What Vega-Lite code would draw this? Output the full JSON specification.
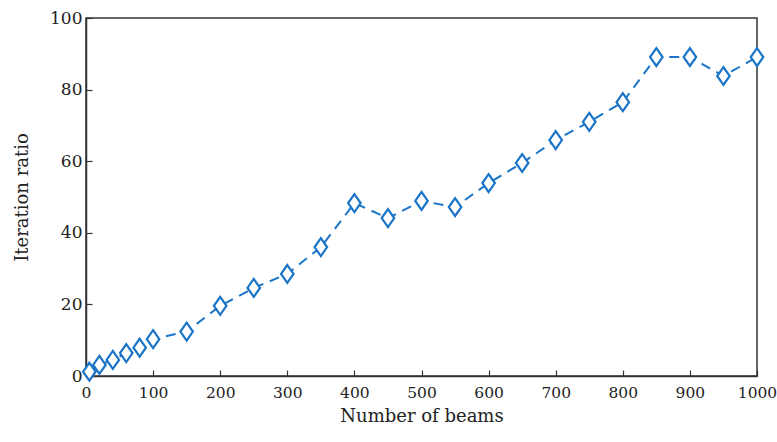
{
  "$schema": "https://vega.github.io/schema/vega-lite/v6.json",
  "width": 671,
  "height": 358,
  "autosize": "none",
  "padding": {"left": 86, "top": 18, "right": 20, "bottom": 66},
  "background": "white",
  "config": {
    "view": {"stroke": "#333", "strokeWidth": 1.5},
    "font": "DejaVu Serif",
    "axis": {
      "domainColor": "#333", "domainWidth": 1.5,
      "tickColor": "#333", "tickSize": -6, "tickWidth": 1.2,
      "grid": false, "labelFlush": false, "labelOverlap": false, "format": "d",
      "labelFont": "DejaVu Serif", "labelFontSize": 16, "labelColor": "#222",
      "titleFont": "DejaVu Serif", "titleFontSize": 18, "titleFontWeight": "normal", "titleColor": "#222"
    }
  },
  "data": {"values": [
    {"beams": 5, "ratio": 1.2},
    {"beams": 20, "ratio": 3.1},
    {"beams": 40, "ratio": 4.5},
    {"beams": 60, "ratio": 6.4},
    {"beams": 80, "ratio": 7.9},
    {"beams": 100, "ratio": 10.3},
    {"beams": 150, "ratio": 12.4},
    {"beams": 200, "ratio": 19.6},
    {"beams": 250, "ratio": 24.6},
    {"beams": 300, "ratio": 28.5},
    {"beams": 350, "ratio": 36.0},
    {"beams": 400, "ratio": 48.3},
    {"beams": 450, "ratio": 44.1},
    {"beams": 500, "ratio": 48.9},
    {"beams": 550, "ratio": 47.2},
    {"beams": 600, "ratio": 53.9},
    {"beams": 650, "ratio": 59.5},
    {"beams": 700, "ratio": 65.9},
    {"beams": 750, "ratio": 71.0},
    {"beams": 800, "ratio": 76.5},
    {"beams": 850, "ratio": 89.1},
    {"beams": 900, "ratio": 89.1},
    {"beams": 950, "ratio": 83.8},
    {"beams": 1000, "ratio": 89.1}
  ]},
  "encoding": {
    "x": {"field": "beams", "type": "quantitative", "title": "Number of beams",
      "scale": {"domain": [0, 1000], "nice": false},
      "axis": {"values": [0,100,200,300,400,500,600,700,800,900,1000], "labelPadding": 15, "titlePadding": 7, "labelFontSize": 15.5}},
    "y": {"field": "ratio", "type": "quantitative", "title": "Iteration ratio",
      "scale": {"domain": [0, 100], "nice": false},
      "axis": {"values": [0,20,40,60,80,100], "labelPadding": 10, "titlePadding": 18, "labelFontSize": 17}}
  },
  "layer": [
    {"mark": {"type": "line", "color": "#1a75c8", "strokeWidth": 2, "strokeDash": [10, 7]}},
    {"mark": {"type": "point", "shape": "M0,-1L0.7,0L0,1L-0.7,0Z", "filled": true, "fill": "white", "stroke": "#1a75c8", "strokeWidth": 2.2, "size": 320, "opacity": 1}}
  ]
}
